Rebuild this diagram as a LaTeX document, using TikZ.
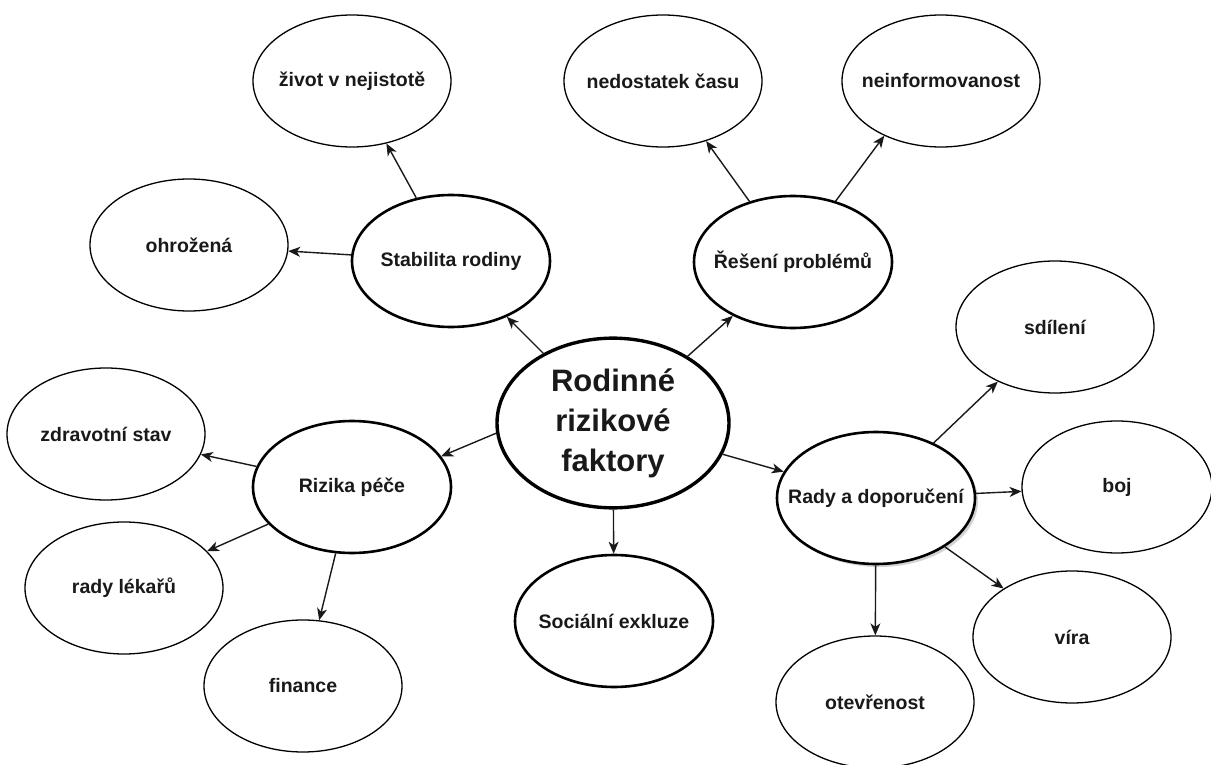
\documentclass[tikz,border=0pt]{standalone}
\usepackage{fontspec}
\setmainfont{Liberation Sans}
\usetikzlibrary{shapes.geometric,arrows.meta,shadows}

\begin{document}
\begin{tikzpicture}[x=1pt,y=-1pt,
  bubble/.style={ellipse, draw=black, fill=white, minimum width=198pt,
    minimum height=132pt, inner sep=0pt,
    font=\fontsize{19.5}{24}\selectfont\bfseries, text=black!90},
  leaf/.style={bubble, line width=1.3pt},
  topic/.style={bubble, line width=2.6pt},
  hub/.style={bubble, line width=3.4pt, minimum width=232pt,
    minimum height=160pt, font=\fontsize{31}{40}\selectfont\bfseries},
  link/.style={line width=1.4pt, draw=black!90,
    -{Stealth[length=12pt,width=10pt,inset=3.5pt]}}
]
\useasboundingbox (0,0) rectangle (1211,765);

% central topic
\node[hub] (hub) at (613,423)
  {\begin{tabular}{@{}c@{}}Rodinné\\rizikové\\faktory\end{tabular}};

% second-level topics
\node[topic] (stab)   at (451,261) {\makebox[0pt]{\raisebox{-2pt}{Stabilita rodiny}}};
\node[topic] (reseni) at (793,262) {\makebox[0pt]{\raisebox{-2pt}{Řešení problémů}}};
\node[topic] (rizika) at (352,487) {\makebox[0pt]{\raisebox{-2pt}{Rizika péče}}};
\node[topic, drop shadow={opacity=0.35, shadow xshift=3pt, shadow yshift=-3pt}]
             (rady)   at (876,498) {\makebox[0pt]{\raisebox{-2pt}{Rady a doporučení}}};
\node[topic] (soc)    at (614,621) {\makebox[0pt]{\raisebox{-2pt}{Sociální exkluze}}};

% leaves
\node[leaf] (zivot)   at (352,81)   {\makebox[0pt]{\raisebox{-2pt}{život v nejistotě}}};
\node[leaf] (ohr)     at (189,245)  {\makebox[0pt]{\raisebox{-2pt}{ohrožená}}};
\node[leaf] (nedost)  at (663,81)   {\makebox[0pt]{\raisebox{-2pt}{nedostatek času}}};
\node[leaf] (neinf)   at (941,81)   {\makebox[0pt]{\raisebox{-2pt}{neinformovanost}}};
\node[leaf] (zdrav)   at (106,434)  {\makebox[0pt]{\raisebox{-2pt}{zdravotní stav}}};
\node[leaf] (lekaru)  at (124,588)  {\makebox[0pt]{\raisebox{-2pt}{rady lékařů}}};
\node[leaf] (finance) at (303,686)  {\makebox[0pt]{\raisebox{-2pt}{finance}}};
\node[leaf] (sdileni) at (1055,327) {\makebox[0pt]{\raisebox{-2pt}{sdílení}}};
\node[leaf, minimum width=190pt] (boj) at (1117,487) {\makebox[0pt]{\raisebox{-2pt}{boj}}};
\node[leaf] (vira)    at (1072,637) {\makebox[0pt]{\raisebox{-2pt}{víra}}};
\node[leaf] (otevr)   at (875,702)  {\makebox[0pt]{\raisebox{-2pt}{otevřenost}}};

% connectors
\draw[link] (hub) -- (stab);
\draw[link] (hub) -- (reseni);
\draw[link] (hub.185) -- (rizika.19);
\draw[link] (hub) -- (rady);
\draw[link] (hub) -- (soc);

\draw[link] (stab) -- (zivot);
\draw[link] (stab) -- (ohr);

\draw[link] (reseni) -- (nedost);
\draw[link] (reseni.55) -- (neinf.224);

\draw[link] (rizika) -- (zdrav);
\draw[link] (rizika) -- (lekaru);
\draw[link] (rizika) -- (finance);

\draw[link] (rady) -- (sdileni);
\draw[link] (rady) -- (boj);
\draw[link] (rady) -- (vira);
\draw[link] (rady) -- (otevr);
\end{tikzpicture}
\end{document}
